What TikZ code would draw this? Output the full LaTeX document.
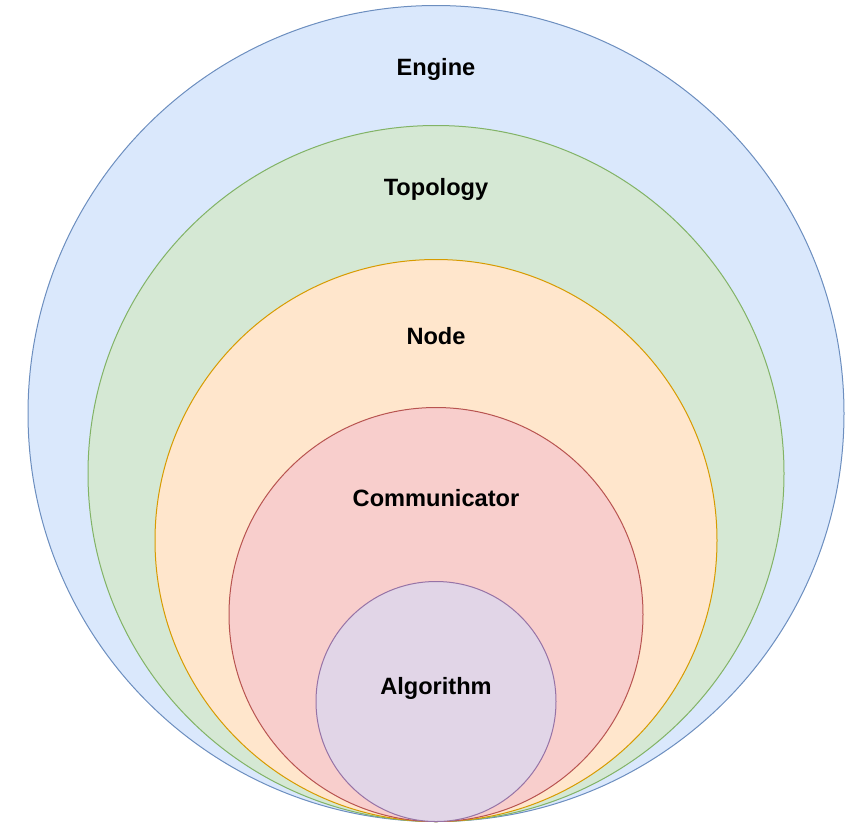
\documentclass[tikz,border=0pt]{standalone}
\usepackage{fontspec}
\setmainfont{Liberation Sans}
\definecolor{bfill}{HTML}{DAE8FC}\definecolor{bline}{HTML}{6C8EBF}
\definecolor{gfill}{HTML}{D5E8D4}\definecolor{gline}{HTML}{82B366}
\definecolor{ofill}{HTML}{FFE6CC}\definecolor{oline}{HTML}{D79B00}
\definecolor{rfill}{HTML}{F8CECC}\definecolor{rline}{HTML}{B85450}
\definecolor{pfill}{HTML}{E1D5E7}\definecolor{pline}{HTML}{9673A6}
\tikzset{
  ring/.style={circle,line width=1pt,inner sep=0pt},
  lbl/.style={font=\fontsize{23.6}{28}\selectfont\bfseries,inner sep=0pt}
}
\begin{document}
\begin{tikzpicture}[x=1pt,y=-1pt]
\useasboundingbox (0,0) rectangle (849,823);
\node[ring,draw=bline,fill=bfill,minimum size=816pt] (engine) at (436,413.5) {};
\node[ring,draw=gline,fill=gfill,minimum size=696pt] (topology) at (436,473.5) {};
\node[ring,draw=oline,fill=ofill,minimum size=562pt] (nodec) at (436,540.5) {};
\node[ring,draw=rline,fill=rfill,minimum size=414pt] (comm) at (436,614.5) {};
\node[ring,draw=pline,fill=pfill,minimum size=240pt] (algo) at (436,701.5) {};
\node[lbl] (tengine) at (436,69.5) {Engine};
\node[lbl] (ttopo) at (436,189.5) {Topology};
\node[lbl] (tnode) at (436,336) {Node};
\node[lbl] (tcomm) at (436,498) {Communicator};
\node[lbl] (talgo) at (436,688) {Algorithm};
\end{tikzpicture}
\end{document}
